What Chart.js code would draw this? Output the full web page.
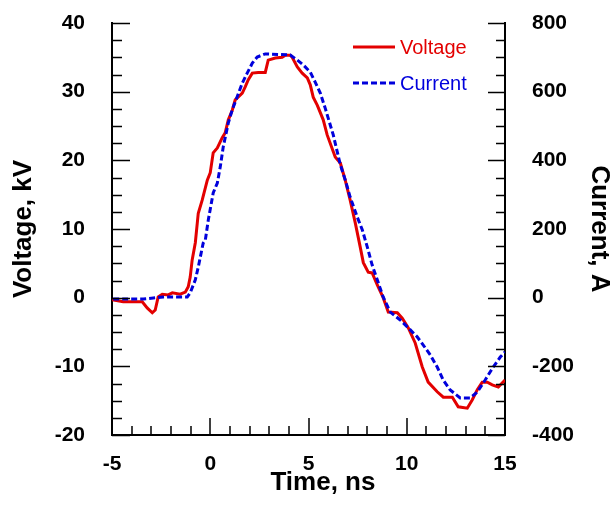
<!DOCTYPE html>
<html>
<head>
<meta charset="utf-8">
<script src="https://cdn.jsdelivr.net/npm/chart.js@4.4.1/dist/chart.umd.min.js"></script>
<style>
html,body{margin:0;padding:0;background:#fff;}
#wrap{width:611px;height:505px;}
</style>
</head>
<body>
<div id="wrap"><canvas id="c" width="611" height="505"></canvas></div>
<script>
// Time (ns) and voltage (kV)
const voltageTime = [-4.99,-4.43,-3.46,-3.21,-2.95,-2.80,-2.65,-2.44,-2.14,-1.93,-1.53,-1.27,-1.12,-1.02,-0.92,-0.76,-0.61,-0.41,-0.15,0.00,0.15,0.36,0.61,0.76,0.92,1.12,1.27,1.63,1.78,1.93,2.14,2.44,2.80,2.95,3.31,3.66,3.82,4.07,4.17,4.43,4.68,4.94,5.09,5.24,5.45,5.75,5.95,6.36,6.62,6.87,7.12,7.38,7.63,7.79,8.04,8.24,8.50,8.80,9.06,9.52,9.77,10.08,10.43,10.79,11.09,11.55,11.86,12.32,12.62,13.08,13.33,13.59,13.84,14.10,14.35,14.66,15.00];
const voltage = [-0.3,-0.6,-0.6,-1.5,-2.2,-1.8,0.1,0.5,0.4,0.7,0.5,0.8,1.6,3.0,5.5,8.0,12.3,14.2,17.1,18.2,21.1,21.8,23.3,24.0,25.9,27.3,28.8,29.8,30.7,31.7,32.7,32.8,32.8,34.6,34.9,35.0,35.3,35.3,35.0,33.6,32.7,32.0,31.0,29.2,28.0,25.9,23.7,20.5,19.6,17.1,14.2,10.9,7.4,5.1,3.7,3.6,1.85,0.0,-2.1,-2.2,-3.0,-4.4,-6.6,-10.1,-12.3,-13.7,-14.5,-14.5,-15.9,-16.1,-14.9,-13.4,-12.3,-12.3,-12.7,-13.0,-12.0];
// Time (ns) and current (A)
const currentTime = [-4.94,-3.41,-2.90,-2.39,-1.17,-1.02,-0.76,-0.61,-0.36,-0.25,-0.10,0.15,0.36,0.51,0.66,0.92,1.12,1.37,1.63,1.88,2.14,2.39,2.80,4.07,4.43,4.73,5.09,5.34,5.60,5.85,6.26,6.62,6.87,7.12,7.48,7.74,7.99,8.24,8.50,8.80,9.16,9.67,10.08,10.53,10.84,11.20,11.55,11.86,12.21,12.72,13.23,13.59,13.99,14.40,14.76,15.00];
const current = [-4,-4,-1,2,2,14,52,89,159,168,226,305,334,381,439,509,547,585,625,654,683,701,710,707,692,678,657,628,596,552,474,387,343,293,235,197,148,95,52,2,-42,-65,-88,-114,-138,-167,-202,-240,-269,-292,-292,-275,-240,-202,-173,-158];

const seriesLabels = ['Voltage','Current'];
const xTickValues = [-5,0,5,10,15];
const voltageTickValues = [-20,-10,0,10,20,30,40];
const currentTickValues = [-400,-200,0,200,400,600,800];

const RED = '#e30000';
const BLUE = '#0000dc';
const FONT = '"Liberation Sans", Arial, sans-serif';

const voltagePts = voltageTime.map((t,i)=>({x:t,y:voltage[i]}));
const currentPts = currentTime.map((t,i)=>({x:t,y:current[i]}));

// inward tick marks + custom legend
const decor = {
  id:'decor',
  afterDatasetsDraw(chart){
    const ctx = chart.ctx;
    const {left,right,top,bottom} = chart.chartArea;
    const sx = chart.scales.x, sy = chart.scales.y, sy2 = chart.scales.y2;
    ctx.save();
    ctx.strokeStyle = '#000';
    ctx.lineWidth = 1.5;
    ctx.beginPath();
    for (let v=-5; v<=15; v+=1){
      const px = Math.round(sx.getPixelForValue(v));
      const len = (v%5===0)?17:9;
      ctx.moveTo(px, bottom); ctx.lineTo(px, bottom-len);
    }
    for (let v=-20; v<=40; v+=2.5){
      const py = Math.round(sy.getPixelForValue(v))+0.5;
      const len = (v%10===0)?18:10;
      ctx.moveTo(left, py); ctx.lineTo(left+len, py);
    }
    for (let v=-400; v<=800; v+=50){
      const py = Math.round(sy2.getPixelForValue(v))+0.5;
      const len = (v%200===0)?17:9;
      ctx.moveTo(right, py); ctx.lineTo(right-len, py);
    }
    ctx.stroke();
    // legend
    const ds = chart.data.datasets;
    const rows = [47, 83];
    ds.forEach((d,i)=>{
      const y = rows[i];
      ctx.beginPath();
      ctx.strokeStyle = d.borderColor;
      ctx.lineWidth = 3;
      ctx.setLineDash(d.borderDash || []);
      ctx.moveTo(353, y); ctx.lineTo(395, y);
      ctx.stroke();
      ctx.setLineDash([]);
      ctx.fillStyle = d.borderColor;
      ctx.font = '20px ' + FONT;
      ctx.textBaseline = 'middle';
      ctx.textAlign = 'left';
      ctx.fillText(d.label, 400, y+1);
    });
    ctx.restore();
  }
};

const tickFont = {family:FONT, size:21, weight:'bold'};
const titleFont = {family:FONT, size:26, weight:'bold', lineHeight:0.9};
function noVPad(s){ s.paddingTop = 0; s.paddingBottom = 0; }

new Chart(document.getElementById('c'), {
  type:'scatter',
  data:{
    datasets:[
      {label:seriesLabels[0], data:voltagePts, yAxisID:'y', showLine:true, borderColor:RED, backgroundColor:RED, borderWidth:3, pointRadius:0, tension:0, order:2},
      {label:seriesLabels[1], data:currentPts, yAxisID:'y2', showLine:true, borderColor:BLUE, backgroundColor:BLUE, borderWidth:3, borderDash:[6,3], pointRadius:0, tension:0, order:1}
    ]
  },
  options:{
    responsive:false,
    devicePixelRatio:1,
    animation:false,
    layout:{padding:{top:23,left:0,right:0,bottom:0}},
    plugins:{legend:{display:false}, tooltip:{enabled:false}},
    scales:{
      x:{
        type:'linear', min:-5, max:15,
        afterBuildTicks(s){ s.ticks = xTickValues.map(v=>({value:v})); },
        afterFit(s){ s.height = 70; s.paddingLeft = 0; s.paddingRight = 0; },
        grid:{display:false, drawTicks:false},
        border:{display:true, color:'#000', width:2},
        ticks:{padding:17, color:'#000', font:tickFont},
        title:{display:true, text:'    Time, ns', color:'#000', font:titleFont, padding:{top:0,bottom:10}}
      },
      y:{
        type:'linear', position:'left', min:-20, max:40,
        afterBuildTicks(s){ s.ticks = voltageTickValues.map(v=>({value:v})); },
        afterFit(s){ s.width = 112; noVPad(s); },
        grid:{display:false, drawTicks:false},
        border:{display:true, color:'#000', width:2},
        ticks:{padding:27, color:'#000', font:tickFont},
        title:{display:true, text:'Voltage, kV', color:'#000', font:titleFont, padding:{top:12,bottom:0}}
      },
      y2:{
        type:'linear', position:'right', min:-400, max:800,
        afterBuildTicks(s){ s.ticks = currentTickValues.map(v=>({value:v})); },
        afterFit(s){ s.width = 106; noVPad(s); },
        grid:{display:false, drawTicks:false},
        border:{display:true, color:'#000', width:2},
        ticks:{padding:27, color:'#000', font:tickFont},
        title:{display:true, text:'Current, A', color:'#000', font:titleFont, padding:{top:0,bottom:0}}
      }
    }
  },
  plugins:[decor]
});
</script>
</body>
</html>
